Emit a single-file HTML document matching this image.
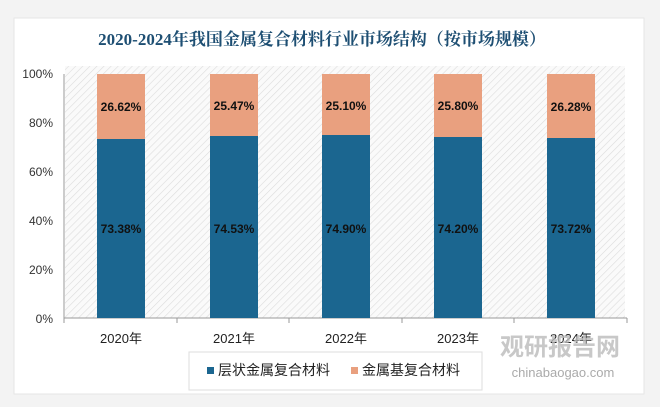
<!DOCTYPE html>
<html><head><meta charset="utf-8"><style>
body{margin:0;width:660px;height:407px;background:#f3f3f3;font-family:"Liberation Sans","Noto Sans CJK SC",sans-serif;position:relative;overflow:hidden}
</style></head><body>
<svg width="660" height="407" style="position:absolute;left:0;top:0">
<defs>
<pattern id="h" width="5" height="5" patternUnits="userSpaceOnUse" patternTransform="rotate(45)">
<rect width="5" height="5" fill="#fafafa"/><line x1="0" y1="0" x2="0" y2="5" stroke="#dcdcdc" stroke-width="1.2"/>
</pattern>
</defs>
<rect x="14" y="18" width="630" height="376" fill="#fff" stroke="#e6e6e6"/>
<text x="322" y="45" text-anchor="middle" font-family="'Liberation Serif','Noto Serif CJK SC',serif" font-weight="bold" font-size="17" fill="#1e4f73">2020-2024年我国金属复合材料行业市场结构（按市场规模）</text>
<rect x="65" y="66" width="560" height="252" fill="url(#h)"/>
<g font-size="12" fill="#333" text-anchor="end">
<text x="53" y="78">100%</text><text x="53" y="127">80%</text><text x="53" y="176">60%</text><text x="53" y="225">40%</text><text x="53" y="274">20%</text><text x="53" y="323">0%</text>
</g>
<line x1="64" y1="74" x2="64" y2="318" stroke="#999"/>
<line x1="64" y1="318" x2="627" y2="318" stroke="#999"/>
<g stroke="#999"><line x1="64" y1="318" x2="64" y2="323"/><line x1="177" y1="318" x2="177" y2="323"/><line x1="289" y1="318" x2="289" y2="323"/><line x1="402" y1="318" x2="402" y2="323"/><line x1="514" y1="318" x2="514" y2="323"/><line x1="627" y1="318" x2="627" y2="323"/></g>
<g font-size="12" font-weight="bold" fill="#111" text-anchor="middle">
<rect x="97" y="74" width="48" height="65" fill="#e9a07f"/><rect x="97" y="139" width="48" height="179" fill="#1b6690"/>
<text x="121" y="111">26.62%</text><text x="121" y="233">73.38%</text>
<rect x="210" y="74" width="48" height="62" fill="#e9a07f"/><rect x="210" y="136" width="48" height="182" fill="#1b6690"/>
<text x="234" y="110">25.47%</text><text x="234" y="233">74.53%</text>
<rect x="322" y="74" width="48" height="61" fill="#e9a07f"/><rect x="322" y="135" width="48" height="183" fill="#1b6690"/>
<text x="346" y="110">25.10%</text><text x="346" y="233">74.90%</text>
<rect x="434" y="74" width="48" height="63" fill="#e9a07f"/><rect x="434" y="137" width="48" height="181" fill="#1b6690"/>
<text x="458" y="110">25.80%</text><text x="458" y="233">74.20%</text>
<rect x="547" y="74" width="48" height="64" fill="#e9a07f"/><rect x="547" y="138" width="48" height="180" fill="#1b6690"/>
<text x="571" y="111">26.28%</text><text x="571" y="233">73.72%</text>
</g>
<g font-size="13" fill="#222" text-anchor="middle">
<text x="121" y="343">2020年</text><text x="234" y="343">2021年</text><text x="346" y="343">2022年</text><text x="458" y="343">2023年</text><text x="571" y="343">2024年</text>
</g>
<rect x="189" y="352" width="293" height="38" fill="#fff" stroke="#ddd"/>
<rect x="207" y="367" width="7" height="7" fill="#1b6690"/>
<text x="218" y="375" font-size="14" fill="#222">层状金属复合材料</text>
<rect x="351" y="367" width="7" height="7" fill="#e9a07f"/>
<text x="362" y="375" font-size="14" fill="#222">金属基复合材料</text>
<text x="560" y="355" font-size="24" font-weight="bold" fill="#bbb" text-anchor="middle" opacity="0.8">观研报告网</text>
<text x="563" y="377" font-size="13" fill="#aaa" text-anchor="middle">chinabaogao.com</text>
</svg>
</body></html>
